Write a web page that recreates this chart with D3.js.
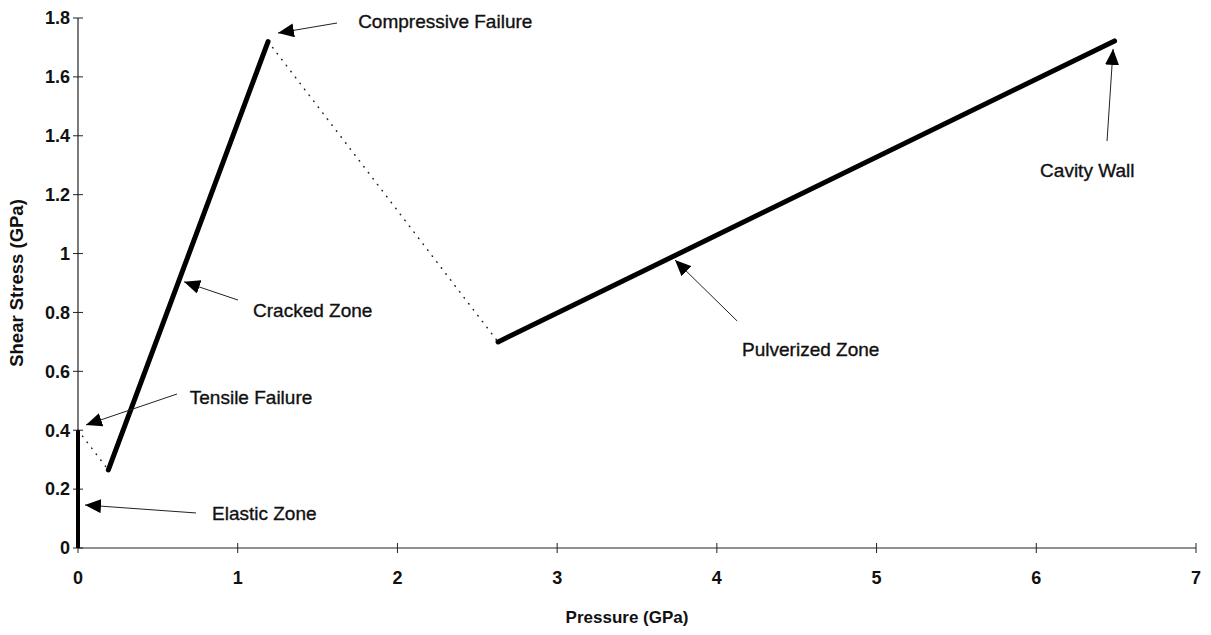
<!DOCTYPE html>
<html>
<head>
<meta charset="utf-8">
<script src="https://cdn.jsdelivr.net/npm/d3@7"></script>
<style>
  body { margin: 0; background: #fff; }
  text { font-family: "Liberation Sans", Arial, sans-serif; fill: #111; }
  .tick-label { font-size: 18px; font-weight: bold; }
  .axis-title { font-size: 17px; font-weight: bold; }
  .note { font-size: 19px; stroke: #111; stroke-width: 0.35px; }
</style>
</head>
<body>
<svg id="chart" width="1211" height="635"></svg>
<script>
// x ticks and y ticks
const xTicks = [0, 1, 2, 3, 4, 5, 6, 7];
const yTicks = [0, 0.2, 0.4, 0.6, 0.8, 1, 1.2, 1.4, 1.6, 1.8];

// solid segments [pressure, shear]
const elasticZone = [[0, 0], [0, 0.4]];
const crackedZone = [[0.19, 0.265], [1.19, 1.72]];
const pulverizedZone = [[2.63, 0.70], [6.49, 1.722]];

// dotted transitions
const tensileJump = [[0, 0.4], [0.19, 0.265]];
const compressiveJump = [[1.19, 1.72], [2.63, 0.70]];

// annotations: label, text anchor point, arrow tail, arrow tip (data units)
const notes = [
  { label: "Compressive Failure", text: [1.754, 1.790], tail: [1.622, 1.783], tip: [1.252, 1.749] },
  { label: "Cracked Zone",        text: [1.096, 0.808], tail: [1.002, 0.842], tip: [0.664, 0.904] },
  { label: "Tensile Failure",     text: [0.70, 0.510],  tail: [0.62, 0.523],  tip: [0.05, 0.418] },
  { label: "Elastic Zone",        text: [0.839, 0.119], tail: [0.739, 0.119], tip: [0.044, 0.146] },
  { label: "Pulverized Zone",     text: [4.158, 0.673], tail: [4.127, 0.771], tip: [3.738, 0.978] },
  { label: "Cavity Wall",         text: [6.024, 1.281], tail: [6.443, 1.382], tip: [6.481, 1.695] }
];

const svg = d3.select("#chart");

const x = d3.scaleLinear().domain([0, 7]).range([78, 1196]);
const y = d3.scaleLinear().domain([0, 1.8]).range([548, 18]);

// arrow head
svg.append("defs").append("marker")
  .attr("id", "head")
  .attr("markerUnits", "userSpaceOnUse")
  .attr("viewBox", "0 0 16 14")
  .attr("refX", 16)
  .attr("refY", 7)
  .attr("markerWidth", 16)
  .attr("markerHeight", 14)
  .attr("orient", "auto")
  .append("path")
  .attr("d", "M0,0 L16,7 L0,14 Z")
  .attr("fill", "#000");

// X axis
const xAxis = svg.append("g").attr("transform", `translate(0,${y(0)})`);
xAxis.append("line")
  .attr("x1", x(0)).attr("x2", x(7))
  .attr("stroke", "#222").attr("stroke-width", 1.2);
xAxis.selectAll(".tk").data(xTicks).join("line")
  .attr("x1", d => x(d)).attr("x2", d => x(d))
  .attr("y1", -5).attr("y2", 5)
  .attr("stroke", "#222");
xAxis.selectAll(".tick-label").data(xTicks).join("text")
  .attr("class", "tick-label")
  .attr("x", d => x(d))
  .attr("y", 36)
  .attr("text-anchor", "middle")
  .text(d => d);

// Y axis
const yAxis = svg.append("g").attr("transform", `translate(${x(0)},0)`);
yAxis.append("line")
  .attr("y1", y(0)).attr("y2", y(1.8))
  .attr("stroke", "#222").attr("stroke-width", 1.2);
yAxis.selectAll(".tk").data(yTicks).join("line")
  .attr("x1", -5).attr("x2", 5)
  .attr("y1", d => y(d)).attr("y2", d => y(d))
  .attr("stroke", "#222");
yAxis.selectAll(".tick-label").data(yTicks).join("text")
  .attr("class", "tick-label")
  .attr("x", -8)
  .attr("y", d => y(d))
  .attr("dy", "0.35em")
  .attr("text-anchor", "end")
  .text(d => d);

// axis titles
svg.append("text")
  .attr("class", "axis-title")
  .attr("x", 627).attr("y", 623)
  .attr("text-anchor", "middle")
  .text("Pressure (GPa)");

svg.append("text")
  .attr("class", "axis-title")
  .attr("transform", "translate(23,283) rotate(-90)")
  .attr("text-anchor", "middle")
  .style("font-size", "18.5px")
  .text("Shear Stress (GPa)");

const line = d3.line().x(d => x(d[0])).y(d => y(d[1]));

// dotted transitions
[tensileJump, compressiveJump].forEach(seg => {
  svg.append("path")
    .attr("d", line(seg))
    .attr("fill", "none")
    .attr("stroke", "#222")
    .attr("stroke-width", 1.5)
    .attr("stroke-linecap", "round")
    .attr("stroke-dasharray", "0.5,7");
});

// solid zones
svg.append("path")
  .attr("d", line(elasticZone))
  .attr("fill", "none").attr("stroke", "#000").attr("stroke-width", 4);

[crackedZone, pulverizedZone].forEach(seg => {
  svg.append("path")
    .attr("d", line(seg))
    .attr("fill", "none")
    .attr("stroke", "#000")
    .attr("stroke-width", 5)
    .attr("stroke-linecap", "round");
});

// annotations
const ann = svg.append("g");
ann.selectAll("line").data(notes).join("line")
  .attr("x1", d => x(d.tail[0])).attr("y1", d => y(d.tail[1]))
  .attr("x2", d => x(d.tip[0])).attr("y2", d => y(d.tip[1]))
  .attr("stroke", "#222")
  .attr("stroke-width", 1)
  .attr("marker-end", "url(#head)");

ann.selectAll("text").data(notes).join("text")
  .attr("class", "note")
  .attr("x", d => x(d.text[0]))
  .attr("y", d => y(d.text[1]))
  .attr("dy", "0.35em")
  .text(d => d.label);
</script>
</body>
</html>
